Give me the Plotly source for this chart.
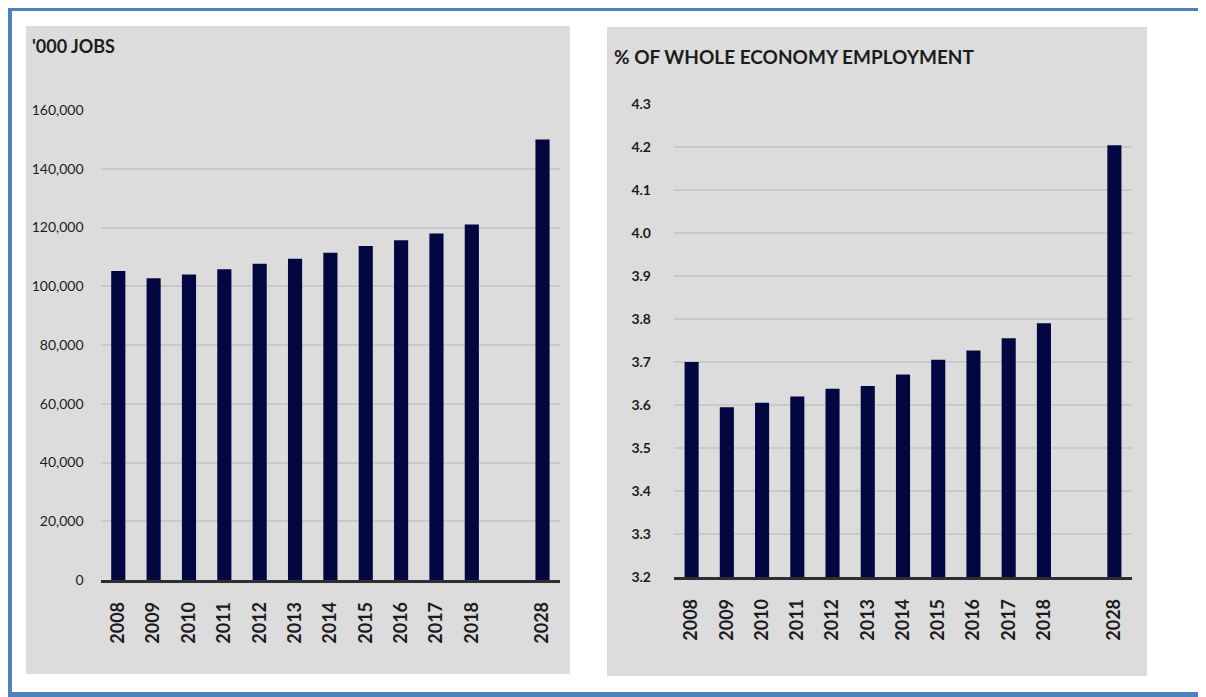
"""Jobs and share of whole-economy employment, 2008-2018 and 2028 projection."""

import plotly.graph_objects as go

# the page body keeps an 8px margin, so the figure is drawn 8px in from the
# window corner; positions below are given in window pixels and shifted back
OFF = 8
W, H = 1206 - OFF, 697 - OFF

COLORS = {
    "bar": "#020741",
    "panel": "#DCDCDC",
    "grid": "#C9C9C9",
    "axis": "#2E2E2E",
    "text": "#1C1C1C",
    "frame": "#4F81BD",
}
FONT = "Lato, 'Open Sans', sans-serif"

# data
years = ["2008", "2009", "2010", "2011", "2012", "2013", "2014",
         "2015", "2016", "2017", "2018", "2028"]
# one blank slot between 2018 and the 2028 projection
x_order = years[:-1] + [" "] + years[-1:]

jobs = [105200, 102700, 104000, 105800, 107700, 109400, 111400,
        113700, 115700, 118000, 121000, 150000]
share = [3.70, 3.595, 3.605, 3.62, 3.638, 3.644, 3.671,
         3.705, 3.727, 3.755, 3.79, 4.204]

jobs_ticks = [0, 20000, 40000, 60000, 80000, 100000, 120000, 140000, 160000]
share_ticks = [3.2, 3.3, 3.4, 3.5, 3.6, 3.7, 3.8, 3.9, 4.0, 4.1, 4.2, 4.3]


def px(x):
    return min(max((x - OFF) / W, 0), 1)


def py(y):
    return min(max(1 - (y - OFF) / H, 0), 1)


fig = go.Figure()

fig.add_trace(go.Bar(x=years, y=jobs, marker_color=COLORS["bar"], width=0.4,
                     xaxis="x", yaxis="y", showlegend=False))
fig.add_trace(go.Bar(x=years, y=share, marker_color=COLORS["bar"], width=0.4,
                     xaxis="x2", yaxis="y2", showlegend=False))

xcommon = dict(
    type="category",
    categoryorder="array",
    categoryarray=x_order,
    range=[-0.5, len(x_order) - 0.5],
    tickangle=-90,
    tickfont=dict(family=FONT, size=18, color=COLORS["text"], weight="bold"),
    ticklabelstandoff=12,
    showgrid=False,
    showline=True,
    linecolor=COLORS["axis"],
    linewidth=2.5,
    ticks="",
    automargin=False,
    fixedrange=True,
)
ycommon = dict(
    showgrid=True,
    gridcolor=COLORS["grid"],
    gridwidth=2,
    zeroline=False,
    ticks="",
    automargin=False,
    fixedrange=True,
)

fig.update_layout(
    template="none",
    width=W,
    height=H,
    autosize=False,
    margin=dict(l=0, r=0, t=0, b=0, pad=0),
    paper_bgcolor="white",
    plot_bgcolor="rgba(0,0,0,0)",
    bargap=0.6,
    xaxis=dict(domain=[px(100.6), px(560.2)], anchor="y", **xcommon),
    yaxis=dict(
        domain=[py(580), py(110)],
        anchor="x",
        range=[0, 160000],
        tickvals=jobs_ticks,
        tickformat=",",
        tickfont=dict(family=FONT, size=14, color=COLORS["text"]),
        ticklabelstandoff=16,
        **ycommon,
    ),
    xaxis2=dict(domain=[px(674), px(1132)], anchor="y2", **xcommon),
    yaxis2=dict(
        domain=[py(577), py(104)],
        anchor="x2",
        range=[3.2, 4.3],
        tickvals=share_ticks,
        tickformat=".1f",
        tickfont=dict(family=FONT, size=14, color=COLORS["text"], weight="bold"),
        ticklabelstandoff=22,
        **ycommon,
    ),
)

# grey panels behind each chart, blue frame on left, top and bottom
shapes = [
    dict(type="rect", xref="paper", yref="paper", layer="below",
         x0=px(26), x1=px(570), y0=py(674), y1=py(26),
         fillcolor=COLORS["panel"], line_width=0),
    dict(type="rect", xref="paper", yref="paper", layer="below",
         x0=px(607), x1=px(1147), y0=py(676), y1=py(27),
         fillcolor=COLORS["panel"], line_width=0),
    dict(type="rect", xref="paper", yref="paper", layer="above",
         x0=0, x1=4 / W, y0=0, y1=1,
         fillcolor=COLORS["frame"], line_width=0),
    dict(type="rect", xref="paper", yref="paper", layer="above",
         x0=0, x1=1, y0=1 - 3 / H, y1=1,
         fillcolor=COLORS["frame"], line_width=0),
    dict(type="rect", xref="paper", yref="paper", layer="above",
         x0=0, x1=1, y0=0, y1=py(692),
         fillcolor=COLORS["frame"], line_width=0),
]
fig.update_layout(shapes=shapes)

fig.add_annotation(
    text="'000 JOBS", xref="paper", yref="paper",
    x=px(30), y=py(46), xanchor="left", yanchor="middle", showarrow=False,
    font=dict(family=FONT, size=18, color=COLORS["text"], weight="bold"),
)
fig.add_annotation(
    text="% OF WHOLE ECONOMY EMPLOYMENT", xref="paper", yref="paper",
    x=px(612), y=py(56), xanchor="left", yanchor="middle", showarrow=False,
    font=dict(family=FONT, size=19, color=COLORS["text"], weight="bold"),
)

fig.write_html("out.html")
